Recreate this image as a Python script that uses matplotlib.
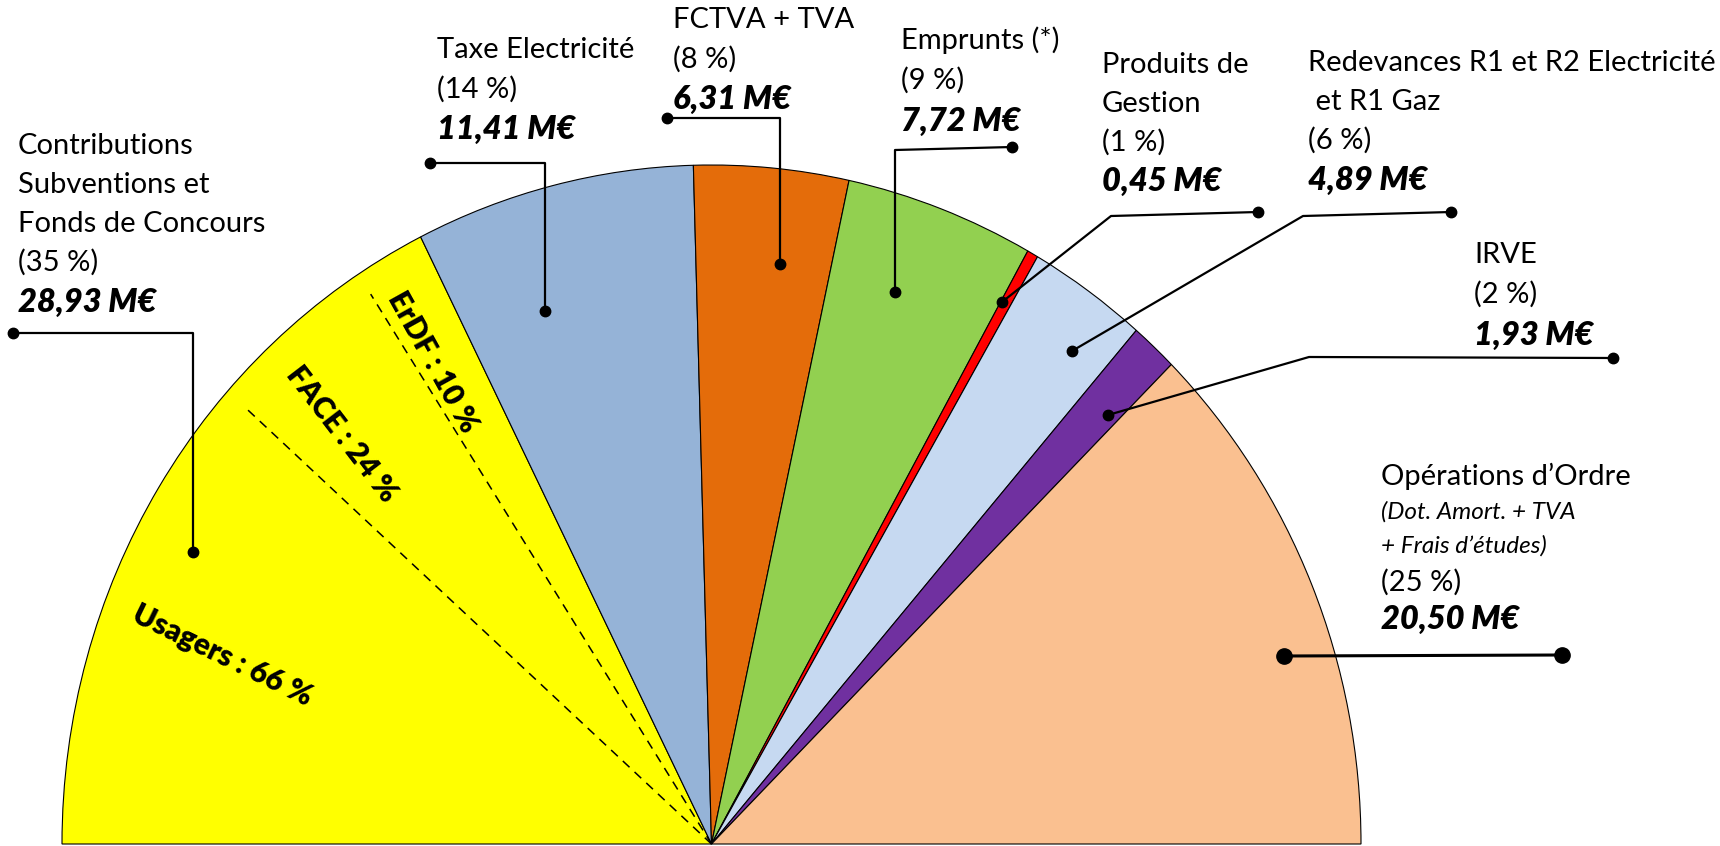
import numpy as np
import matplotlib
matplotlib.use("Agg")
import matplotlib.pyplot as plt

plt.rcParams['font.family'] = ['Lato', 'DejaVu Sans']

# recettes d'investissement
postes = [["Contributions", "Subventions et", "Fonds de Concours"],
          ["Taxe Electricité"],
          ["FCTVA + TVA"],
          ["Emprunts (*)"],
          ["Produits de", "Gestion"],
          ["Redevances R1 et R2 Electricité", " et R1 Gaz"],
          ["IRVE"],
          ["Opérations d’Ordre"]]
montants = [28.93, 11.41, 6.31, 7.72, 0.45, 4.89, 1.93, 20.50]
pourcents = [35, 14, 8, 9, 1, 6, 2, 25]
couleurs = ["#FFFF00", "#95B3D7", "#E46C0A", "#92D050", "#FF0000", "#C6D9F1", "#7030A0", "#FAC090"]
precisions = [[], [], [], [], [], [], [], ["(Dot. Amort. + TVA", "+ Frais d’études)"]]

# detail des contributions
sous_postes = ["ErDF", "FACE", "Usagers"]
sous_pourcents = [10, 24, 66]

# placement des etiquettes (pixels) : x, 1ere ligne de base, pas
pos_labels = [(18, 154, 39), (437, 58, 39.5), (673, 28, 39.5), (901, 49, 40),
              (1102, 73, 38.7), (1308, 71, 39), (1474, 263, 40), (1381, 485, 36.5)]
# traits de rappel
rappels = [[(13, 333), (193, 333), (193, 552)],
           [(430, 163), (545, 163), (545, 311)],
           [(667, 118), (780, 118), (780, 264)],
           [(1012, 147), (895, 150), (895, 292)],
           [(1258, 212), (1111, 216), (1002, 302)],
           [(1451, 212), (1303, 216), (1072, 351)],
           [(1613, 358), (1309, 357), (1108, 415)],
           [(1562, 655), (1284, 656)]]
pos_sous = [(433, 362, -61), (342, 434, -52.5), (222, 655, -26)]

fig = plt.figure(figsize=(17.2, 8.46), dpi=100)
ax = fig.add_axes([0, 0, 1, 1])
total = sum(montants)
wedges, _ = ax.pie([m / total / 2 for m in montants], normalize=False, startangle=180,
                   counterclock=False, colors=couleurs,
                   wedgeprops=dict(edgecolor="black", linewidth=0.8))
ax.set_aspect("auto")
ax.set_xlim(-711.5 / 649.5, (1720 - 711.5) / 649.5)
ax.set_ylim(-2 / 679, 844 / 679)
ax.axis("off")

# separations en pointilles dans la part jaune
t1, t2 = wedges[0].theta1, wedges[0].theta2
for c in np.cumsum(sous_pourcents)[:-1]:
    a = np.radians(t1 + (t2 - t1) * c / 100)
    ax.plot([0, 0.965 * np.cos(a)], [0, 0.965 * np.sin(a)], color="black",
            lw=1.1, ls=(0, (6, 4.5)))

ax2 = fig.add_axes([0, 0, 1, 1])
ax2.set_xlim(0, 1720)
ax2.set_ylim(846, 0)
ax2.axis("off")

for i in range(len(montants)):
    x, y0, pas = pos_labels[i]
    y = y0
    for ligne in postes[i]:
        ax2.text(x, y, ligne, fontsize=21, va="baseline", ha="left")
        y += pas
    for ligne in precisions[i]:
        ax2.text(x, y - 3, ligne, fontsize=17.5, style="italic", va="baseline", ha="left")
        y += pas - 2
    ax2.text(x, y, f"({pourcents[i]} %)", fontsize=21, va="baseline", ha="left")
    y += pas + 2
    ax2.text(x, y, f"{montants[i]:.2f}".replace(".", ",") + " M€", fontsize=23.5,
             fontweight="heavy", style="italic", va="baseline", ha="left")

    pts = np.array(rappels[i])
    gros = i == len(montants) - 1
    ax2.plot(pts[:, 0], pts[:, 1], color="black", lw=2.2 if gros else 1.6,
             solid_capstyle="butt", zorder=3)
    ax2.plot(pts[[0, -1], 0], pts[[0, -1], 1], "o", color="black",
             ms=11 if gros else 7.5, zorder=4)

for nom, p, (x, y, rot) in zip(sous_postes, sous_pourcents, pos_sous):
    ax2.text(x, y, f"{nom} : {p} %", fontsize=21.5, fontweight="heavy", rotation=rot,
             ha="center", va="center", rotation_mode="anchor")

fig.savefig("out.png", dpi=100)
